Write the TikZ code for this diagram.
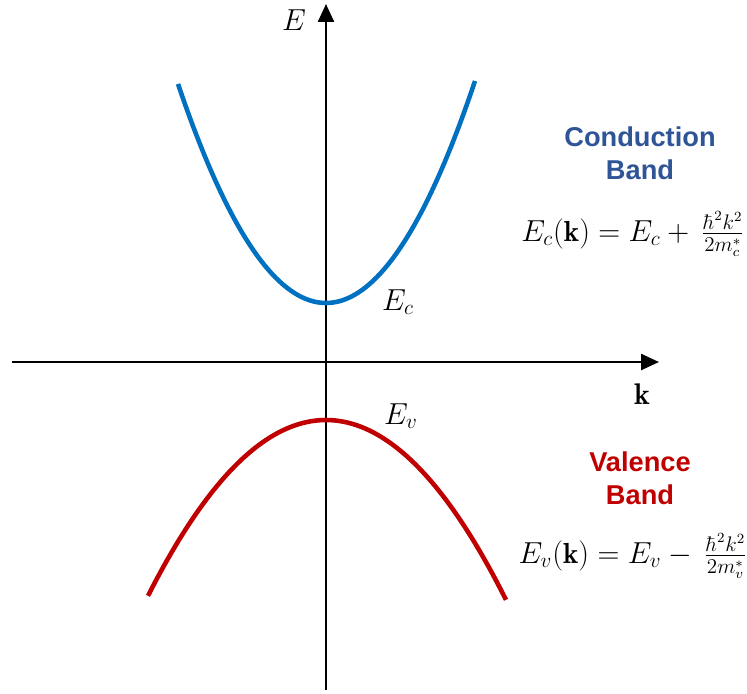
\documentclass[tikz,border=0pt]{standalone}
\usepackage{fontspec}
\newfontfamily\bandfont{Liberation Sans}
\usetikzlibrary{arrows.meta}
\definecolor{cbblue}{HTML}{0070C0}
\definecolor{cbtext}{HTML}{2F5597}
\definecolor{vbred}{HTML}{C00000}
\begin{document}
\begin{tikzpicture}[x=0.02cm,y=-0.02cm,
  axis/.style={line width=1.4pt,-{Triangle[length=0.36cm,width=0.32cm]}},
  band/.style={line width=2.6pt},
  lbl/.style={font=\fontsize{17}{20}\selectfont,inner sep=0pt},
  formula/.style={font=\fontsize{16.5}{20}\selectfont,inner sep=0pt},
  bandname/.style={font=\bandfont\bfseries\fontsize{15.5}{19}\selectfont,align=center,inner sep=0pt}]
\useasboundingbox (0,0) rectangle (747,693);
\coordinate (ybot) at (326,690);
\coordinate (ytop) at (326,4);
\coordinate (xl) at (12,362);
\coordinate (xr) at (659,362);
\draw[axis] (ybot) -- (ytop);
\draw[axis] (xl) -- (xr);
\draw[band,cbblue,domain=-148:149,samples=80] plot ({326+\x},{303-(\x/10)*(\x/10)});
\draw[band,vbred,domain=-178:180,samples=80] plot ({326+\x},{420+0.555*(\x/10)*(\x/10)});
\node[lbl] (E) at (294,20) {$E$};
\node[lbl] (k) at (642,394) {$\mathbf{k}$};
\node[lbl] (Ec) at (398,302) {$E_c$};
\node[lbl] (Ev) at (401,416) {$E_v$};
\node[bandname,text=cbtext] (cb) at (640,153) {Conduction\\Band};
\node[bandname,text=vbred] (vb) at (640,478) {Valence\\Band};
\node[formula] (fc) at (633,234) {$E_c(\mathbf{k}) = E_c + \,\frac{\hbar^2k^2}{2m_c^*}$};
\node[formula] (fv) at (633,556) {$E_v(\mathbf{k}) = E_v - \,\frac{\hbar^2k^2}{2m_v^*}$};
\end{tikzpicture}
\end{document}
